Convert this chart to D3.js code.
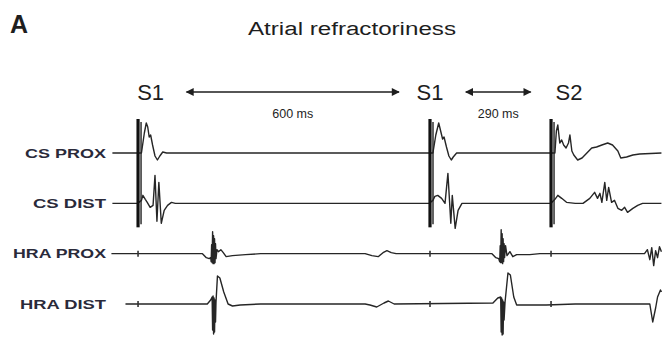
<!DOCTYPE html>
<html>
<head>
<meta charset="utf-8">
<script src="https://cdn.jsdelivr.net/npm/d3@7"></script>
<style>
  body { margin: 0; background: #fff; }
  svg { display: block; font-family: "Liberation Sans", Arial, sans-serif; }
</style>
</head>
<body>
<div id="chart"></div>
<script>
// channels, top to bottom
var channels = ["CS PROX", "CS DIST", "HRA PROX", "HRA DIST"];

// pacing stimuli (ms) and their labels
var stimTimes = [-3, 600, 850];
var stimLabels = ["S1", "S1", "S2"];
var stimLabelTimes = [23, 600, 887];

// coupling interval arrows (ms) and labels
var arrowSpans = [[97, 536], [674, 808]];
var arrowLabels = ["600 ms", "290 ms"];

// traces: [time ms, amplitude]
var csProx = [
  [-56,0],[-4,0],[4,0],[10,2.0],[14,3.0],[17,2.6],[20,1.6],[23,1.8],[27,0.8],[32,-0.3],[37,-0.7],[42,-0.3],[48,0.1],[56,0],
  [598,0],[606,0],[612,1.8],[618,3.0],[622,2.2],[626,1.4],[629,1.6],[634,0.6],[639,-0.3],[644,-0.7],[648,-0.4],[655,0],
  [850,0],[858,0],[861,2.2],[864,2.8],[868,1.0],[872,1.3],[876,0.8],[881,0.5],[886,1.0],[889,1.8],[893,0.2],[897,-0.2],
  [905,-0.7],[914,-0.5],[924,0],[934,0.5],[944,0.6],[955,0.8],[967,1.0],[977,0.8],[988,0.2],[994,-0.5],[1006,-0.4],
  [1019,-0.2],[1033,-0.1],[1078,0]
];
var csDist = [
  [-56,0],[-4,0],[4,0.3],[7,0.8],[12,0.4],[16,0.1],[22,-0.4],[28,-0.2],[32,2.8],[36,-1.8],[40,2.1],[45,-2.0],[51,-0.7],
  [58,-0.2],[66,0.1],[74,0],
  [598,0],[606,0.3],[610,0.7],[616,0.8],[624,0.5],[631,0],[637,3.0],[643,-2.0],[646,0.8],[652,-2.5],[658,-0.7],[666,0],
  [850,0],[858,0.4],[864,0.8],[872,0.5],[882,0.1],[900,0],[916,0],[930,0.5],[940,1.1],[946,0.5],[951,1.0],[955,0.1],
  [961,2.1],[965,0.3],[969,1.6],[975,0.1],[981,0.3],[988,-0.5],[996,-0.7],[1002,-0.4],[1008,-0.9],[1019,-0.5],
  [1029,-0.2],[1039,0],[1078,0]
];
var hraProx = [
  [-58,0],[130,0],[138,-0.4],[144,-0.5],[147,-0.4],[148,-0.8],[149,0.9],[150,-0.9],[151,2.2],[152,-1.0],[153,1.8],
  [154,-1.0],[155,1.5],[156,-0.9],[157,1.0],[158,-0.5],[160,0.4],[163,0.2],[168,0.4],[173,0.1],[179,-0.3],[192,-0.2],
  [219,-0.1],[250,0],
  [466,0],[480,-0.2],[493,-0.3],[503,0.1],[511,0.3],[520,0.1],[530,0],
  [728,0],[736,-0.4],[742,-0.5],[744,-0.8],[745,0.8],[746,-0.9],[747,2.4],[748,-0.9],[749,2.0],[750,-1.0],[751,1.5],
  [752,-0.8],[753,1.0],[754,-0.4],[756,0.8],[759,-0.2],[765,0.2],[771,-0.3],[779,-0.1],[806,-0.1],[827,0],
  [1043,0],[1049,0.4],[1054,-0.6],[1058,0.6],[1062,-1.2],[1066,0.3],[1070,-0.4],[1074,0.7],[1078,0.2]
];
var hraDist = [
  [-29,0],[140,0],[147,0.4],[150,0.7],[151,-2.6],[152,0.8],[153,-3.0],[154,0.6],[155,-2.8],[156,0.4],[157,-1.8],
  [158,0.2],[161,2.8],[166,2.6],[174,1.2],[183,0],[192,-0.2],[208,-0.1],[250,0],
  [466,0],[476,-0.1],[490,-0.3],[505,0.1],[514,0.3],[526,0],
  [730,0.1],[740,0.6],[746,0.7],[747,-2.8],[748,0.6],[749,-3.1],[750,0.4],[751,-3.0],[752,0.2],[753,-1.6],
  [755,0.2],[761,3.1],[766,2.9],[773,0.7],[779,-0.1],[840,-0.1],[900,0],
  [1054,0],[1060,-1.8],[1066,-0.4],[1070,0.7],[1076,1.4],[1078,1.2]
];
var traces = [csProx, csDist, hraProx, hraDist];

var width = 662, height = 338;
var ink = "#1e1e1e";

var svg = d3.select("#chart").append("svg")
    .attr("width", width)
    .attr("height", height)
    .style("background-color", "white");

// scales
var x = d3.scaleLinear().domain([0, 600]).range([139.5, 430]);
var row = d3.scalePoint().domain(channels).range([153, 304]);
var amp = d3.scaleLinear().domain([-1, 1]).range([10, -10]);

function yOf(ch, v) { return row(ch) + amp(v); }

// panel letter and title
svg.append("text")
    .attr("x", 10).attr("y", 33)
    .attr("font-size", 25).attr("font-weight", "bold")
    .attr("fill", ink)
    .text("A");
svg.append("text")
    .attr("x", 352).attr("y", 35)
    .attr("text-anchor", "middle")
    .attr("font-size", 18)
    .attr("textLength", 208).attr("lengthAdjust", "spacingAndGlyphs")
    .attr("fill", ink)
    .text("Atrial refractoriness");

// arrowheads
var defs = svg.append("defs");
["start", "end"].forEach(function (k) {
  defs.append("marker")
      .attr("id", "ah-" + k)
      .attr("viewBox", "0 0 10 10")
      .attr("refX", k == "end" ? 9 : 1).attr("refY", 5)
      .attr("markerWidth", 9).attr("markerHeight", 8)
      .attr("markerUnits", "userSpaceOnUse")
      .attr("orient", "auto")
    .append("path")
      .attr("d", k == "end" ? "M0,0L10,5L0,10Z" : "M10,0L0,5L10,10Z")
      .attr("fill", ink);
});

// stimulus labels
svg.selectAll(".stim-label")
    .data(stimLabels)
    .enter().append("text")
      .attr("x", function (d, i) { return x(stimLabelTimes[i]); })
      .attr("y", 100)
      .attr("text-anchor", "middle")
      .attr("font-size", 22)
      .attr("fill", ink)
      .text(function (d) { return d; });

// interval arrows
svg.selectAll(".span")
    .data(arrowSpans)
    .enter().append("line")
      .attr("x1", function (d) { return x(d[0]); })
      .attr("x2", function (d) { return x(d[1]); })
      .attr("y1", 92).attr("y2", 92)
      .attr("stroke", ink).attr("stroke-width", 1.6)
      .attr("marker-start", "url(#ah-start)")
      .attr("marker-end", "url(#ah-end)");
svg.selectAll(".span-label")
    .data(arrowLabels)
    .enter().append("text")
      .attr("x", function (d, i) { return x((arrowSpans[i][0] + arrowSpans[i][1]) / 2); })
      .attr("y", 118)
      .attr("text-anchor", "middle")
      .attr("font-size", 12.5)
      .attr("fill", ink)
      .text(function (d) { return d; });

// channel labels
var labelWidths = { "CS PROX": 81, "CS DIST": 73, "HRA PROX": 93, "HRA DIST": 86 };
svg.selectAll(".ch-label")
    .data(channels)
    .enter().append("text")
      .attr("x", 106)
      .attr("y", function (d) { return row(d) + 4.5; })
      .attr("text-anchor", "end")
      .attr("font-size", 12.5).attr("font-weight", "bold")
      .attr("textLength", function (d) { return labelWidths[d]; })
      .attr("lengthAdjust", "spacingAndGlyphs")
      .attr("fill", "#2a2a3a")
      .text(function (d) { return d; });

// traces
var line = d3.line();
traces.forEach(function (tr, i) {
  var ch = channels[i];
  line.x(function (d) { return x(d[0]); }).y(function (d) { return yOf(ch, d[1]); });
  svg.append("path")
      .attr("d", line(tr))
      .attr("fill", "none")
      .attr("stroke", "#262626")
      .attr("stroke-width", 1.4)
      .attr("stroke-linejoin", "round");
});

// stimulus artifacts across CS channels
stimTimes.forEach(function (t) {
  svg.append("line")
      .attr("x1", x(t)).attr("x2", x(t))
      .attr("y1", yOf("CS PROX", 3.4)).attr("y2", yOf("CS DIST", -2.4))
      .attr("stroke", "#111").attr("stroke-width", 3.2);
  svg.append("line")
      .attr("x1", x(t) + 3).attr("x2", x(t) + 3)
      .attr("y1", yOf("CS PROX", 3.1)).attr("y2", yOf("CS DIST", -2.1))
      .attr("stroke", "#222").attr("stroke-width", 1.4);
  // small pacing marks on HRA channels
  ["HRA PROX", "HRA DIST"].forEach(function (ch) {
    svg.append("line")
        .attr("x1", x(t)).attr("x2", x(t))
        .attr("y1", yOf(ch, 0.3)).attr("y2", yOf(ch, -0.3))
        .attr("stroke", "#333").attr("stroke-width", 1.6);
  });
});
</script>
</body>
</html>
